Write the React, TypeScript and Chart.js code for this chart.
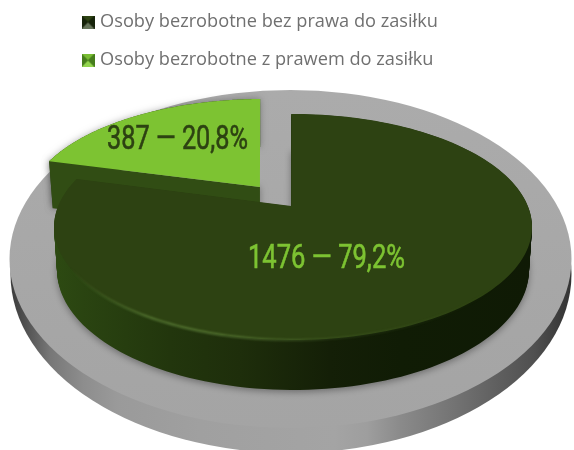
import React, { useEffect, useRef } from "react";
import { Chart, registerables } from "chart.js";

Chart.register(...registerables);

const categories = ["Osoby bezrobotne bez prawa do zasiłku", "Osoby bezrobotne z prawem do zasiłku"];
const values = [1476, 387];
const percentLabels = ["79,2%", "20,8%"];

const DARK = "#2d4212";
const LIGHT = "#7dc332";

type Ell = { cx: number; cy: number; rx: number; ry: number; ax: number; ay: number };

// perspective projection of the pie's circle: the slice apex sits off the ellipse centre
function rim(e: Ell, angle: number): [number, number] {
  const ux = Math.cos(angle);
  const uy = Math.sin(angle);
  const sp = Math.hypot(e.ax, e.ay);
  const g = 1 / Math.sqrt(1 - sp * sp);
  const nx = e.ax / sp;
  const ny = e.ay / sp;
  const dot = ux * nx + uy * ny;
  const t = g * (1 + e.ax * ux + e.ay * uy);
  const px = (ux + (g - 1) * dot * nx + g * e.ax) / t;
  const py = (uy + (g - 1) * dot * ny + g * e.ay) / t;
  return [e.cx + px * e.rx, e.cy + py * e.ry];
}

function apexOf(e: Ell): [number, number] {
  return [e.cx + e.ax * e.rx, e.cy + e.ay * e.ry];
}

function traceRim(ctx: CanvasRenderingContext2D, e: Ell, a0: number, a1: number, first: boolean) {
  const n = 160;
  for (let i = 0; i <= n; i++) {
    const [x, y] = rim(e, a0 + ((a1 - a0) * i) / n);
    if (i === 0 && first) ctx.moveTo(x, y);
    else ctx.lineTo(x, y);
  }
}

function fillSlice(ctx: CanvasRenderingContext2D, e: Ell, a0: number, a1: number) {
  const [x, y] = apexOf(e);
  ctx.beginPath();
  ctx.moveTo(x, y);
  traceRim(ctx, e, a0, a1, false);
  ctx.closePath();
  ctx.fill();
}

function mix(a: Ell, b: Ell, t: number): Ell {
  return {
    cx: a.cx + (b.cx - a.cx) * t,
    cy: a.cy + (b.cy - a.cy) * t,
    rx: a.rx + (b.rx - a.rx) * t,
    ry: a.ry + (b.ry - a.ry) * t,
    ax: a.ax,
    ay: a.ay,
  };
}

function hGrad(ctx: CanvasRenderingContext2D, x0: number, x1: number, stops: [number, string][]) {
  const g = ctx.createLinearGradient(x0, 0, x1, 0);
  stops.forEach(([x, c]) => g.addColorStop((x - x0) / (x1 - x0), c));
  return g;
}

const DARK_TOP: Ell = { cx: 293, cy: 227, rx: 239, ry: 113, ax: -0.008, ay: -0.186 };
const DARK_LOW: Ell = { cx: 293, cy: 270, rx: 236, ry: 120, ax: -0.008, ay: -0.186 };
const LIGHT_TOP: Ell = { cx: 263, cy: 207, rx: 236, ry: 108, ax: -0.013, ay: -0.185 };
const LIGHT_LOW: Ell = { cx: 263, cy: 253, rx: 232, ry: 106, ax: -0.013, ay: -0.185 };

const threeD = {
  id: "threeD",
  beforeDatasetsDraw(chart: any) {
    const ctx: CanvasRenderingContext2D = chart.ctx;
    const arcs = chart.getDatasetMeta(0).data;
    const [ds, de] = [arcs[0].startAngle, arcs[0].endAngle];
    const [ls, le] = [arcs[1].startAngle, arcs[1].endAngle];
    ctx.save();

    // grey plate: side, then top
    ctx.fillStyle = hGrad(ctx, 10, 572, [
      [10, "#3c3c3c"], [20, "#484848"], [50, "#777777"], [83, "#8d8d8d"], [117, "#9a9a9a"], [200, "#a0a0a0"],
      [334, "#a4a4a4"], [367, "#9e9e9e"], [401, "#8a8a8a"], [450, "#757575"], [500, "#5e5e5e"],
      [534, "#505050"], [561, "#3a3a3a"], [572, "#333333"],
    ]);
    ctx.beginPath();
    ctx.ellipse(291, 274, 280.5, 179, 0, 0, Math.PI * 2);
    ctx.fill();
    const topG = ctx.createLinearGradient(0, 90, 0, 428);
    topG.addColorStop(0, "#ababab");
    topG.addColorStop(1, "#a4a4a4");
    ctx.fillStyle = topG;
    ctx.beginPath();
    ctx.ellipse(290.5, 259, 281, 169, 0, 0, Math.PI * 2);
    ctx.fill();

    // light slice: body with soft shadow, front wall, top
    ctx.save();
    ctx.shadowColor = "rgba(0,0,0,0.3)";
    ctx.shadowBlur = 7;
    ctx.fillStyle = "#314d14";
    ctx.beginPath();
    traceRim(ctx, LIGHT_TOP, ls, le, true);
    traceRim(ctx, LIGHT_LOW, le, ls, false);
    ctx.closePath();
    ctx.fill();
    const a1 = rim(LIGHT_TOP, ls);
    const a2 = rim(LIGHT_LOW, ls);
    const a3 = apexOf(LIGHT_LOW);
    const a4 = apexOf(LIGHT_TOP);
    ctx.beginPath();
    ctx.moveTo(a1[0], a1[1]);
    ctx.lineTo(a2[0], a2[1]);
    ctx.lineTo(a3[0], a3[1]);
    ctx.lineTo(a4[0], a4[1]);
    ctx.closePath();
    ctx.fill();
    ctx.restore();
    ctx.fillStyle = arcs[1].options.backgroundColor;
    fillSlice(ctx, LIGHT_TOP, ls, le);

    // dark slice: side built up from the bottom layer to the top face
    const sideFill = hGrad(ctx, 55, 532, [
      [55, "#2d4a12"], [83, "#2a4411"], [170, "#22360d"], [240, "#1e2e0b"], [330, "#141f07"], [400, "#101c05"], [532, "#0f1a05"],
    ]);
    ctx.save();
    ctx.shadowColor = "rgba(0,0,0,0.35)";
    ctx.shadowBlur = 7;
    ctx.shadowOffsetY = 2;
    ctx.fillStyle = sideFill;
    fillSlice(ctx, DARK_LOW, ds, de);
    ctx.restore();
    ctx.fillStyle = sideFill;
    for (let t = 0.03; t < 1; t += 0.03) fillSlice(ctx, mix(DARK_LOW, DARK_TOP, t), ds, de);

    ctx.fillStyle = arcs[0].options.backgroundColor;
    fillSlice(ctx, DARK_TOP, ds, de);

    const rimStroke = hGrad(ctx, 70, 500, [
      [70, "rgba(110,150,70,0)"], [150, "rgba(110,150,70,0.65)"], [220, "rgba(110,150,70,0.65)"],
      [330, "rgba(110,150,70,0.2)"], [500, "rgba(110,150,70,0)"],
    ]);
    ctx.save();
    ctx.filter = "blur(0.8px)";
    ctx.strokeStyle = rimStroke;
    ctx.lineWidth = 2;
    ctx.beginPath();
    traceRim(ctx, DARK_TOP, ds + Math.PI * 2 * 0.28, ds + Math.PI * 2 * 0.72, true);
    ctx.stroke();
    ctx.restore();

    // value labels, condensed
    const labels: [number, string, number, number, number][] = [
      [0, LIGHT, 326.5, 259.5, 157],
      [1, DARK, 177.5, 140.5, 141],
    ];
    labels.forEach(([i, col, x, y, w]) => {
      const text = `${values[i]} — ${percentLabels[i]}`;
      ctx.fillStyle = col;
      ctx.strokeStyle = col;
      ctx.lineWidth = 0.6;
      ctx.font = "33px 'Liberation Sans Narrow', Roboto, sans-serif";
      ctx.textAlign = "center";
      ctx.textBaseline = "middle";
      ctx.fillText(text, x, y, w);
      ctx.strokeText(text, x, y, w);
    });
    ctx.restore();
    return false;
  },
};

function marker(side: string, top: string, bottom: string) {
  const c = document.createElement("canvas");
  c.width = 13;
  c.height = 13;
  const g = c.getContext("2d")!;
  const tri = (col: string, pts: number[]) => {
    g.fillStyle = col;
    g.beginPath();
    g.moveTo(pts[0], pts[1]);
    g.lineTo(pts[2], pts[3]);
    g.lineTo(6.5, 6.5);
    g.closePath();
    g.fill();
  };
  g.fillStyle = side;
  g.fillRect(0, 0, 13, 13);
  tri(top, [0, 0, 13, 0]);
  tri(bottom, [0, 13, 13, 13]);
  tri(side, [0, 0, 0, 13]);
  tri(side, [13, 0, 13, 13]);
  return c;
}

export default function App() {
  const ref = useRef<HTMLCanvasElement>(null);
  useEffect(() => {
    const markers = [marker("#16230a", "#2d4212", "#66755a"), marker("#467d1c", "#79bd33", "#93d54e")];
    const chart = new Chart(ref.current!, {
      type: "pie",
      data: {
        labels: categories,
        datasets: [{ data: values, backgroundColor: [DARK, LIGHT], borderWidth: 0 }],
      },
      options: {
        responsive: false,
        animation: false,
        layout: { padding: { left: 65, top: -7 } },
        plugins: {
          tooltip: { enabled: false },
          legend: {
            position: "left",
            align: "start",
            maxWidth: 490,
            labels: {
              usePointStyle: true,
              boxWidth: 6,
              padding: 20,
              color: "#707070",
              font: { family: "'Open Sans', sans-serif", size: 18.2 },
              generateLabels: () =>
                categories.map((text, i) => ({
                  text,
                  index: i,
                  fillStyle: i ? LIGHT : DARK,
                  fontColor: "#707070",
                  strokeStyle: "transparent",
                  lineWidth: 0,
                  pointStyle: markers[i],
                })),
            },
          },
        },
      },
      plugins: [threeD],
    } as any);
    return () => chart.destroy();
  }, []);
  return (
    <div style={{ position: "absolute", left: 0, top: 0, width: 574, height: 450, background: "#fff" }}>
      <canvas ref={ref} width={574} height={450} style={{ display: "block" }} />
    </div>
  );
}
